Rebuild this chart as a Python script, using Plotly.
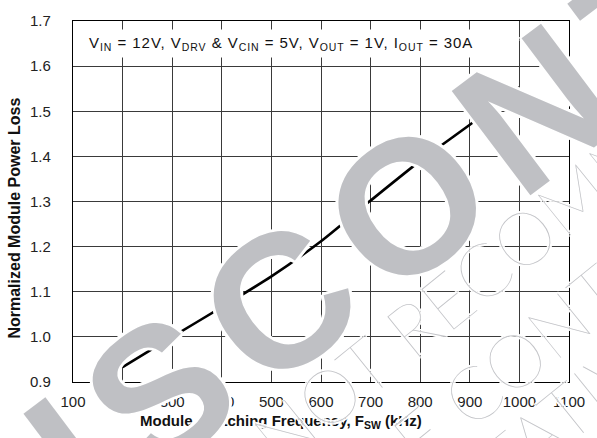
import plotly.graph_objects as go

# Data
freq_khz = [200, 300, 400, 500, 600, 700, 800, 900, 1000]
norm_loss = [0.933, 1.000, 1.066, 1.134, 1.212, 1.302, 1.390, 1.470, 1.553]

x_ticks = [100, 200, 300, 400, 500, 600, 700, 800, 900, 1000, 1100]
y_ticks = [0.9, 1.0, 1.1, 1.2, 1.3, 1.4, 1.5, 1.6, 1.7]

W, H = 597, 438
L, R, T, B = 73, 580, 16, 382


def px(xp):
    return (xp - L) / (R - L)


def py(yp):
    return (B - yp) / (B - T)


fig = go.Figure()
fig.add_trace(go.Scatter(x=freq_khz, y=norm_loss, mode="lines",
                         line=dict(color="black", width=2.6, shape="spline", smoothing=0.6),
                         showlegend=False, hoverinfo="skip"))

axis_common = dict(showgrid=True, gridcolor="#3a3a3a", gridwidth=1,
                   showline=True, linecolor="black", linewidth=1.3, mirror=True,
                   ticks="", zeroline=False,
                   tickfont=dict(family="Liberation Sans, Arial", size=15, color="#222"))

fig.update_xaxes(range=[100, 1100], tickvals=x_ticks, ticktext=[str(v) for v in x_ticks],
                 ticklabelstandoff=6, **axis_common)
fig.update_yaxes(range=[0.9, 1.7], tickvals=y_ticks, ticktext=[f"{v:.1f}" for v in y_ticks],
                 ticklabelstandoff=18, **axis_common)


def halo(r):
    offs = [(r, 0), (-r, 0), (0, r), (0, -r), (r * 0.7, r * 0.7), (-r * 0.7, -r * 0.7),
            (r * 0.7, -r * 0.7), (-r * 0.7, r * 0.7)]
    return ", ".join(f"white {dx:.1f}px {dy:.1f}px 0" for dx, dy in offs)


thin_font = dict(family="Lato, Inter, Liberation Sans", size=74, color="#c3c4c8", weight=200,
                 shadow=halo(2))

annotations = [
    # condition box
    dict(x=px(84), y=py(39), xref="paper", yref="paper", xanchor="left", yanchor="middle",
         text='<span style="letter-spacing:0.95px">V<sub>IN</sub> = 12V, V<sub>DRV</sub> & V<sub>CIN</sub> = 5V, '
              'V<sub>OUT</sub> = 1V, I<sub>OUT</sub> = 30A</span>',
         showarrow=False, bgcolor="white", borderpad=4,
         font=dict(family="Liberation Sans, Arial", size=15, color="#111")),
    # axis titles
    dict(x=px(286), y=py(422), xref="paper", yref="paper", xanchor="center", yanchor="middle",
         text="Module Switching Frequency, F<sub>SW</sub> (kHz)", showarrow=False,
         font=dict(family="Liberation Sans, Arial", size=15, color="#111", weight="bold")),
    dict(x=px(13), y=py(216), xref="paper", yref="paper", xanchor="center", yanchor="middle",
         text="Normalized Module Power Loss", showarrow=False, textangle=-90,
         font=dict(family="Liberation Sans, Arial", size=16, color="#111", weight="bold")),
    # watermarks
    dict(x=px(604), y=py(62), xref="paper", yref="paper", xanchor="center", yanchor="middle",
         text='<span style="letter-spacing:18px">DISCONTINUED</span>', showarrow=False,
         textangle=-37,
         font=dict(family="Liberation Sans, Arial", size=190, color="#bfc0c4", weight="bold",
                   shadow=halo(3))),
    dict(x=px(565), y=py(209), xref="paper", yref="paper", xanchor="center", yanchor="middle",
         text="NOT RECOMMENDED", showarrow=False, textangle=-39, font=thin_font),
    dict(x=px(488), y=py(388), xref="paper", yref="paper", xanchor="center", yanchor="middle",
         text="PLEASE CONTACT", showarrow=False, textangle=-39, font=thin_font),
    dict(x=px(448), y=py(514), xref="paper", yref="paper", xanchor="center", yanchor="middle",
         text="REPRESENTATIVE", showarrow=False, textangle=-39, font=thin_font),
]

fig.update_layout(width=W, height=H, margin=dict(l=L, r=W - R, t=T, b=H - B),
                  plot_bgcolor="white", paper_bgcolor="white", annotations=annotations,
                  font=dict(family="Liberation Sans, Arial"))

fig.write_html("out.html", config={"displayModeBar": False},
               post_script="document.body.style.margin='0';"
                           "document.documentElement.style.overflow='hidden';"
                           "document.body.style.overflow='hidden';")
